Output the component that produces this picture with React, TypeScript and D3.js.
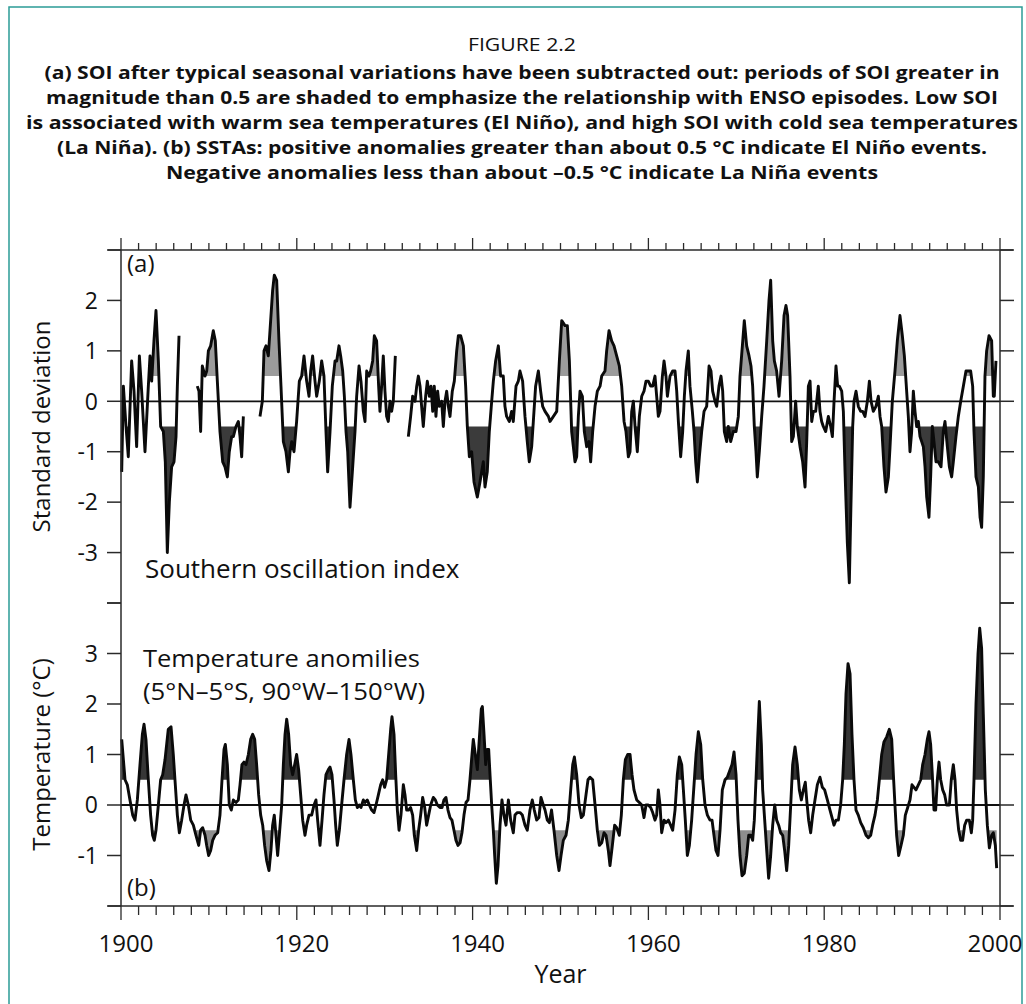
import { useMemo } from "react";
import * as d3 from "d3";

const WIDTH = 1026;
const HEIGHT = 1004;
const FONT = "'Open Sans', 'Noto Sans', sans-serif";
const TEAL = "#2b9c97";

const titleHead = "FIGURE 2.2";
const titleLines = [
  "(a) SOI after typical seasonal variations have been subtracted out: periods of SOI greater in",
  "magnitude than 0.5 are shaded to emphasize the relationship with ENSO episodes. Low SOI",
  "is associated with warm sea temperatures (El Niño), and high SOI with cold sea temperatures",
  "(La Niña). (b) SSTAs: positive anomalies greater than about 0.5 °C indicate El Niño events.",
  "Negative anomalies less than about \u20130.5 °C indicate La Niña events",
];
const titleWidths = [955, 952, 992, 930, 712];

const yearLabels = [1900, 1920, 1940, 1960, 1980, 2000];
const soiTickValues = [-4, -3, -2, -1, 0, 1, 2, 3];
const soiTickLabels = [2, 1, 0, -1, -2, -3];
const sstTickValues = [-2, -1, 0, 1, 2, 3, 4];
const sstTickLabels = [3, 2, 1, 0, -1];

// SOI (standard deviations), null marks a gap in the record
const soiReadings: [number, number | null][] = [
  [1900.08, -1.4], [1900.27, 0.3], [1900.57, -0.5], [1900.83, -1.1], [1901.21, 0.8], [1901.48, 0.2],
  [1901.78, -0.9], [1902.09, 0.9], [1902.35, 0.2], [1902.73, -1.0], [1903.11, 0.3], [1903.3, 0.9],
  [1903.49, 0.4], [1903.75, 1.2], [1903.98, 1.8], [1904.25, 0.8], [1904.51, -0.5], [1904.82, -0.6],
  [1905.04, -1.2], [1905.27, -3.0], [1905.5, -2.0], [1905.76, -1.3], [1906.03, -1.2], [1906.26, -0.7],
  [1906.41, 0.3], [1906.6, 1.3],
  [1907.5, null],
  [1908.68, 0.3], [1908.87, 0.2], [1909.06, -0.6], [1909.25, 0.7], [1909.56, 0.5], [1909.75, 0.6],
  [1909.94, 1.0], [1910.2, 1.1], [1910.5, 1.4], [1910.73, 1.2], [1910.96, 0.4], [1911.26, -0.6],
  [1911.57, -1.2], [1911.83, -1.3], [1912.1, -1.5], [1912.32, -1.0], [1912.59, -0.7], [1912.78, -0.7],
  [1913.08, -0.5], [1913.35, -0.4], [1913.54, -0.7], [1913.73, -1.1], [1913.92, -0.3],
  [1915.0, null],
  [1915.81, -0.3], [1916.08, 0.0], [1916.27, 1.0], [1916.5, 1.1], [1916.76, 0.9], [1916.95, 1.4],
  [1917.25, 2.2], [1917.44, 2.5], [1917.71, 2.4], [1917.97, 1.2], [1918.2, 0.3], [1918.47, -0.8],
  [1918.77, -1.0], [1919.04, -1.4], [1919.23, -1.0], [1919.42, -0.8], [1919.68, -1.0], [1919.98, -0.4],
  [1920.29, 0.4], [1920.55, 0.5], [1920.82, 0.9], [1921.12, 0.4], [1921.39, 0.1], [1921.58, 0.6],
  [1921.8, 0.9], [1922.07, 0.4], [1922.26, 0.1], [1922.56, 0.4], [1922.83, 0.8], [1923.09, 0.5],
  [1923.32, -0.6], [1923.51, -1.4], [1923.78, -0.6], [1924.04, 0.3], [1924.35, 0.8], [1924.54, 0.8],
  [1924.8, 1.1], [1924.99, 0.9], [1925.22, 0.6], [1925.41, 0.1], [1925.6, -0.6], [1925.79, -1.0],
  [1926.05, -2.1], [1926.32, -1.4], [1926.62, -0.6], [1926.81, 0.1], [1927.08, 0.7], [1927.3, 0.4],
  [1927.57, -0.2], [1927.76, -0.4], [1927.95, 0.6], [1928.21, 0.5], [1928.4, 0.6], [1928.63, 0.8],
  [1928.82, 1.3], [1929.08, 1.2], [1929.31, 0.3], [1929.46, -0.2], [1929.65, 0.3], [1929.84, 0.9],
  [1930.03, 0.2], [1930.22, -0.3], [1930.41, -0.4], [1930.6, 0.0], [1930.79, -0.2], [1930.98, 0.0],
  [1931.21, 0.9],
  [1932.0, null],
  [1932.69, -0.7], [1932.95, -0.3], [1933.18, 0.1], [1933.45, 0.0], [1933.64, 0.3], [1933.83, 0.5],
  [1934.02, 0.3], [1934.2, -0.1], [1934.39, -0.5], [1934.66, 0.1], [1934.85, 0.4], [1935.08, 0.1],
  [1935.27, 0.3], [1935.46, -0.2], [1935.64, 0.3], [1935.83, -0.3], [1936.02, 0.2], [1936.21, -0.1],
  [1936.48, 0.0], [1936.67, -0.5], [1936.86, 0.0], [1937.05, 0.2], [1937.24, -0.1], [1937.43, -0.3],
  [1937.69, 0.2], [1937.92, 0.4], [1938.19, 1.0], [1938.38, 1.3], [1938.64, 1.3], [1938.95, 1.1],
  [1939.21, 0.3], [1939.4, -0.5], [1939.63, -1.1], [1939.89, -1.0], [1940.16, -1.6], [1940.54, -1.9],
  [1940.84, -1.6], [1941.22, -1.2], [1941.41, -1.7], [1941.67, -1.4], [1941.9, -0.6], [1942.17, 0.0],
  [1942.36, 0.4], [1942.62, 0.8], [1942.93, 1.1], [1943.19, 0.5], [1943.49, 0.5], [1943.68, -0.1],
  [1943.87, -0.3], [1944.18, -0.4], [1944.44, -0.2], [1944.63, -0.4], [1944.94, 0.3], [1945.2, 0.4],
  [1945.39, 0.6], [1945.69, 0.4], [1945.96, -0.3], [1946.22, -0.8], [1946.45, -1.2], [1946.72, -0.9],
  [1946.91, -0.4], [1947.17, 0.3], [1947.48, 0.6], [1947.74, 0.2], [1947.97, -0.1], [1948.24, -0.2],
  [1948.62, -0.3], [1948.81, -0.4], [1949.57, -0.2], [1949.87, 0.8], [1950.14, 1.6], [1950.51, 1.5],
  [1950.78, 1.5], [1951.01, 0.8], [1951.27, -0.6], [1951.46, -0.9], [1951.65, -1.2], [1951.84, -1.1],
  [1952.03, -0.3], [1952.22, 0.2], [1952.49, 0.1], [1952.71, -0.6], [1952.98, -0.9], [1953.24, -0.8],
  [1953.43, -1.2], [1953.66, -0.6], [1953.93, -0.1], [1954.19, 0.2], [1954.5, 0.3], [1954.69, 0.5],
  [1955.06, 0.6], [1955.25, 1.0], [1955.52, 1.4], [1955.82, 1.2], [1956.09, 1.1], [1956.39, 0.9],
  [1956.69, 0.7], [1956.96, 0.3], [1957.23, -0.4], [1957.45, -0.6], [1957.72, -1.1], [1957.91, -1.0],
  [1958.1, -0.2], [1958.29, 0.0], [1958.48, -0.5], [1958.74, -1.0], [1958.97, -0.3], [1959.24, 0.1],
  [1959.5, 0.2], [1959.73, 0.4], [1959.99, 0.4], [1960.26, 0.3], [1960.49, 0.3], [1960.75, 0.5],
  [1960.94, 0.1], [1961.13, -0.3], [1961.32, -0.2], [1961.59, 0.5], [1961.78, 0.8], [1962.0, 0.5],
  [1962.16, 0.1], [1962.46, 0.5], [1962.76, 0.6], [1963.03, 0.6], [1963.22, 0.2], [1963.41, -0.4],
  [1963.67, -1.1], [1963.9, -0.6], [1964.09, 0.1], [1964.28, 0.6], [1964.54, 1.0], [1964.73, 0.3],
  [1965.0, -0.2], [1965.19, -0.6], [1965.38, -1.2], [1965.57, -1.6], [1965.8, -1.1], [1966.06, -0.6],
  [1966.33, -0.2], [1966.63, -0.1], [1966.9, 0.7], [1967.12, 0.6], [1967.31, 0.2], [1967.58, 0.0],
  [1967.77, -0.1], [1968.03, 0.3], [1968.26, 0.5], [1968.45, 0.2], [1968.64, -0.6], [1968.91, -0.8],
  [1969.09, -0.5], [1969.36, -0.8], [1969.66, -0.6], [1969.97, -0.6], [1970.23, -0.3], [1970.42, 0.5],
  [1970.69, 1.1], [1970.91, 1.6], [1971.18, 1.1], [1971.45, 0.9], [1971.67, 0.7], [1971.86, 0.3],
  [1972.05, -0.5], [1972.24, -1.0], [1972.39, -1.5], [1972.62, -1.0], [1972.89, -0.3], [1973.15, 0.3],
  [1973.46, 1.2], [1973.72, 2.0], [1973.91, 2.4], [1974.14, 1.2], [1974.33, 0.8], [1974.59, 0.6],
  [1974.86, 0.1], [1975.16, 0.8], [1975.43, 1.7], [1975.65, 1.9], [1975.84, 1.7], [1976.11, 0.5],
  [1976.3, -0.8], [1976.49, -0.7], [1976.75, 0.0], [1976.94, -0.5], [1977.25, -0.9], [1977.55, -1.2],
  [1977.82, -1.7], [1978.01, -0.8], [1978.2, 0.3], [1978.39, 0.4], [1978.58, -0.4], [1978.77, -0.2],
  [1979.03, -0.2], [1979.33, 0.3], [1979.52, -0.2], [1979.71, -0.4], [1979.9, -0.5], [1980.17, -0.6],
  [1980.47, -0.3], [1980.74, -0.5], [1980.93, -0.7], [1981.12, 0.0], [1981.34, 0.7], [1981.53, 0.3],
  [1981.72, 0.3], [1981.99, 0.2], [1982.18, -0.2], [1982.37, -1.4], [1982.63, -2.8], [1982.86, -3.6],
  [1983.05, -2.0], [1983.24, -0.5], [1983.39, 0.0], [1983.62, 0.2], [1983.88, -0.1], [1984.15, -0.2],
  [1984.38, -0.2], [1984.64, -0.3], [1984.91, 0.0], [1985.14, 0.4], [1985.33, 0.0], [1985.59, -0.2],
  [1985.89, -0.1], [1986.16, 0.1], [1986.35, -0.3], [1986.54, -0.5], [1986.8, -1.3], [1987.03, -1.8],
  [1987.3, -1.5], [1987.49, -0.9], [1987.75, 0.0], [1988.05, 0.6], [1988.32, 1.2], [1988.62, 1.7],
  [1988.89, 1.3], [1989.12, 0.9], [1989.38, 0.2], [1989.57, -0.3], [1989.76, -1.0], [1989.95, -0.6],
  [1990.14, 0.2], [1990.33, -0.2], [1990.52, -0.5], [1990.71, -0.4], [1990.9, -0.7], [1991.09, -0.8],
  [1991.28, -0.9], [1991.47, -1.3], [1991.66, -1.9], [1991.92, -2.3], [1992.11, -1.5], [1992.3, -0.5],
  [1992.49, -0.8], [1992.72, -1.2], [1992.98, -1.2], [1993.29, -1.3], [1993.55, -0.6], [1993.74, -0.4],
  [1994.01, -0.9], [1994.24, -1.3], [1994.5, -1.5], [1994.69, -1.2], [1994.99, -0.7], [1995.26, -0.3],
  [1995.53, 0.0], [1995.83, 0.3], [1996.13, 0.6], [1996.4, 0.6], [1996.66, 0.6], [1996.89, 0.3],
  [1997.04, -0.6], [1997.27, -1.5], [1997.54, -1.7], [1997.73, -2.3], [1997.91, -2.5], [1998.1, -1.5],
  [1998.29, 0.5], [1998.48, 1.0], [1998.75, 1.3], [1999.05, 1.2], [1999.24, 0.1], [1999.35, 0.1],
  [1999.54, 0.8],
];

// SST anomalies (°C), 5°N–5°S, 90°W–150°W
const sstReadings: [number, number | null][] = [
  [1900.08, 1.3], [1900.27, 0.9], [1900.46, 0.5], [1900.72, 0.4], [1901.02, 0.1], [1901.33, -0.2],
  [1901.59, -0.3], [1901.86, 0.1], [1902.16, 0.8], [1902.43, 1.4], [1902.62, 1.6], [1902.84, 1.3],
  [1903.11, 0.5], [1903.37, -0.2], [1903.6, -0.6], [1903.79, -0.7], [1903.98, -0.5], [1904.25, 0.0],
  [1904.51, 0.5], [1904.74, 0.6], [1905.01, 0.9], [1905.38, 1.5], [1905.69, 1.55], [1905.95, 1.0],
  [1906.14, 0.5], [1906.41, -0.2], [1906.64, -0.55], [1906.9, -0.3], [1907.17, 0.0], [1907.39, 0.2],
  [1907.66, 0.0], [1907.93, -0.3], [1908.23, -0.4], [1908.53, -0.6], [1908.84, -0.8], [1909.06, -0.5],
  [1909.29, -0.45], [1909.56, -0.6], [1909.75, -0.8], [1909.97, -1.0], [1910.2, -0.9], [1910.43, -0.7],
  [1910.69, -0.6], [1911.0, -0.55], [1911.26, -0.2], [1911.49, 0.5], [1911.72, 1.1], [1911.87, 1.2],
  [1912.1, 0.8], [1912.32, 0.0], [1912.55, -0.1], [1912.78, 0.1], [1913.08, 0.05], [1913.35, 0.1],
  [1913.54, 0.4], [1913.76, 0.8], [1913.99, 0.85], [1914.22, 0.8], [1914.49, 1.0], [1914.75, 1.3],
  [1914.98, 1.4], [1915.21, 1.3], [1915.43, 0.8], [1915.66, 0.2], [1915.89, -0.2], [1916.12, -0.4],
  [1916.34, -0.8], [1916.57, -1.1], [1916.84, -1.3], [1917.06, -0.9], [1917.25, -0.4], [1917.44, -0.2],
  [1917.63, -0.6], [1917.82, -1.0], [1918.01, -0.6], [1918.28, 0.0], [1918.47, 0.8], [1918.66, 1.4],
  [1918.85, 1.7], [1919.07, 1.4], [1919.3, 0.8], [1919.53, 0.6], [1919.76, 0.8], [1919.98, 1.0],
  [1920.21, 0.7], [1920.44, 0.2], [1920.67, -0.3], [1920.93, -0.6], [1921.12, -0.4], [1921.39, -0.2],
  [1921.69, -0.2], [1921.96, 0.0], [1922.18, 0.1], [1922.37, -0.3], [1922.64, -0.8], [1922.87, -0.3],
  [1923.09, 0.2], [1923.32, 0.6], [1923.59, 0.7], [1923.78, 0.75], [1924.0, 0.6], [1924.23, 0.1],
  [1924.42, -0.4], [1924.61, -0.8], [1924.84, -0.5], [1925.1, 0.0], [1925.37, 0.5], [1925.67, 1.0],
  [1925.94, 1.3], [1926.16, 1.0], [1926.43, 0.5], [1926.66, 0.1], [1926.89, -0.05], [1927.11, 0.0],
  [1927.3, -0.05], [1927.57, 0.1], [1927.76, 0.05], [1928.02, 0.1], [1928.25, 0.0], [1928.52, -0.1],
  [1928.78, -0.15], [1929.01, 0.0], [1929.28, 0.2], [1929.54, 0.4], [1929.77, 0.5], [1929.99, 0.35],
  [1930.22, 0.5], [1930.45, 1.0], [1930.68, 1.5], [1930.83, 1.75], [1931.06, 1.4], [1931.25, 0.6],
  [1931.44, -0.1], [1931.63, -0.5], [1931.85, -0.2], [1932.12, 0.4], [1932.31, 0.2], [1932.5, -0.1],
  [1932.72, -0.1], [1932.95, -0.05], [1933.18, -0.2], [1933.37, -0.6], [1933.64, -0.9], [1933.86, -0.5],
  [1934.09, -0.2], [1934.32, 0.15], [1934.55, -0.05], [1934.77, -0.4], [1935.0, -0.2], [1935.23, 0.0],
  [1935.53, 0.15], [1935.76, 0.1], [1935.99, 0.0], [1936.29, -0.05], [1936.52, -0.05], [1936.74, 0.1],
  [1936.97, 0.15], [1937.2, -0.1], [1937.43, -0.25], [1937.65, -0.3], [1937.88, -0.5], [1938.11, -0.7],
  [1938.34, -0.8], [1938.57, -0.75], [1938.79, -0.55], [1939.02, -0.2], [1939.25, 0.05], [1939.48, 0.1],
  [1939.7, 0.5], [1939.93, 1.0], [1940.08, 1.3], [1940.31, 1.0], [1940.54, 0.7], [1940.76, 1.3],
  [1940.99, 1.9], [1941.11, 1.95], [1941.3, 1.4], [1941.49, 0.8], [1941.67, 1.1], [1941.83, 1.1],
  [1941.98, 0.6], [1942.17, 0.0], [1942.36, -0.5], [1942.51, -1.0], [1942.7, -1.55], [1942.89, -1.2],
  [1943.12, -0.4], [1943.34, 0.1], [1943.57, -0.2], [1943.8, -0.4], [1944.07, 0.1], [1944.33, -0.3],
  [1944.63, -0.55], [1944.82, -0.2], [1945.09, -0.15], [1945.39, -0.15], [1945.66, -0.2], [1945.96, -0.4],
  [1946.22, -0.5], [1946.53, -0.1], [1946.79, 0.1], [1947.02, -0.1], [1947.29, -0.3], [1947.55, -0.25],
  [1947.78, 0.15], [1948.04, 0.0], [1948.24, -0.1], [1948.5, -0.3], [1948.73, -0.35], [1948.98, -0.1],
  [1949.26, -0.5], [1949.57, -1.0], [1949.83, -1.3], [1950.06, -1.0], [1950.32, -0.7], [1950.63, -0.6],
  [1950.89, -0.3], [1951.16, 0.3], [1951.39, 0.8], [1951.58, 0.95], [1951.84, 0.6], [1952.11, 0.0],
  [1952.37, -0.25], [1952.6, -0.2], [1952.9, 0.2], [1953.13, 0.5], [1953.36, 0.55], [1953.66, 0.5],
  [1953.93, 0.0], [1954.19, -0.5], [1954.42, -0.8], [1954.69, -0.75], [1954.95, -0.55], [1955.18, -0.6],
  [1955.44, -0.9], [1955.63, -1.2], [1955.9, -0.8], [1956.16, -0.4], [1956.39, -0.45], [1956.69, -0.6],
  [1956.92, -0.2], [1957.15, 0.5], [1957.38, 0.9], [1957.64, 1.0], [1957.91, 1.0], [1958.14, 0.6],
  [1958.36, 0.3], [1958.67, 0.1], [1958.97, 0.05], [1959.24, 0.0], [1959.5, -0.25], [1959.73, 0.0],
  [1959.99, 0.0], [1960.26, -0.05], [1960.49, -0.15], [1960.75, -0.3], [1960.94, -0.2], [1961.13, 0.3],
  [1961.32, 0.0], [1961.51, -0.55], [1961.78, -0.3], [1962.0, -0.35], [1962.27, -0.3], [1962.53, -0.4],
  [1962.76, -0.5], [1963.03, -0.1], [1963.29, 0.6], [1963.52, 0.95], [1963.79, 0.8], [1963.98, 0.3],
  [1964.2, -0.3], [1964.43, -1.0], [1964.66, -0.8], [1964.92, -0.3], [1965.19, 0.4], [1965.42, 1.0],
  [1965.68, 1.45], [1965.95, 1.2], [1966.18, 0.5], [1966.44, 0.0], [1966.71, -0.2], [1967.01, -0.3],
  [1967.24, -0.3], [1967.46, -0.6], [1967.69, -0.9], [1967.92, -1.0], [1968.15, -0.5], [1968.41, 0.3],
  [1968.72, 0.5], [1968.98, 0.55], [1969.29, 0.7], [1969.51, 0.8], [1969.74, 1.05], [1969.97, 0.6],
  [1970.19, -0.3], [1970.42, -1.0], [1970.65, -1.4], [1970.91, -1.35], [1971.18, -1.0], [1971.41, -0.6],
  [1971.64, -0.6], [1971.86, -0.7], [1972.05, -0.3], [1972.24, 0.5], [1972.43, 1.3], [1972.62, 2.05],
  [1972.85, 1.2], [1973.0, 0.3], [1973.23, -0.3], [1973.46, -0.9], [1973.68, -1.45], [1973.91, -1.0],
  [1974.14, -0.4], [1974.37, 0.0], [1974.59, -0.3], [1974.82, -0.4], [1975.05, -0.55], [1975.28, -0.6],
  [1975.5, -0.9], [1975.73, -1.3], [1975.96, -0.8], [1976.19, 0.0], [1976.41, 0.8], [1976.68, 1.15],
  [1976.94, 0.8], [1977.17, 0.3], [1977.4, 0.1], [1977.63, 0.3], [1977.85, 0.45], [1978.01, 0.1],
  [1978.23, -0.3], [1978.46, -0.55], [1978.69, -0.2], [1978.95, 0.1], [1979.22, 0.4], [1979.52, 0.55],
  [1979.79, 0.35], [1980.05, 0.3], [1980.36, 0.1], [1980.66, -0.1], [1980.89, -0.25], [1981.11, -0.4],
  [1981.34, -0.3], [1981.61, -0.3], [1981.87, 0.0], [1982.1, 0.5], [1982.29, 1.2], [1982.48, 2.2],
  [1982.71, 2.8], [1982.94, 2.6], [1983.16, 1.4], [1983.39, 0.5], [1983.62, -0.1], [1983.88, -0.2],
  [1984.15, -0.35], [1984.45, -0.45], [1984.76, -0.6], [1985.02, -0.65], [1985.29, -0.6], [1985.51, -0.4],
  [1985.78, -0.2], [1986.05, 0.1], [1986.27, 0.5], [1986.54, 1.0], [1986.8, 1.25], [1987.11, 1.35],
  [1987.41, 1.5], [1987.68, 1.3], [1987.87, 0.6], [1988.05, 0.0], [1988.24, -0.6], [1988.47, -1.0],
  [1988.74, -0.8], [1989.0, -0.6], [1989.23, -0.2], [1989.5, -0.05], [1989.76, 0.1], [1989.99, 0.4],
  [1990.22, 0.35], [1990.44, 0.3], [1990.71, 0.4], [1990.98, 0.5], [1991.2, 0.8], [1991.47, 1.0],
  [1991.73, 1.3], [1991.92, 1.45], [1992.11, 1.2], [1992.3, 0.6], [1992.49, -0.1], [1992.68, -0.1],
  [1992.87, 0.5], [1993.06, 0.85], [1993.25, 0.5], [1993.48, 0.3], [1993.71, 0.2], [1993.93, 0.0],
  [1994.24, 0.0], [1994.46, 0.5], [1994.69, 0.8], [1994.88, 0.5], [1995.07, -0.1], [1995.3, -0.5],
  [1995.53, -0.7], [1995.75, -0.7], [1995.98, -0.4], [1996.21, -0.3], [1996.51, -0.3], [1996.74, -0.55],
  [1996.89, -0.3], [1997.04, 0.5], [1997.27, 2.0], [1997.5, 3.0], [1997.69, 3.5], [1997.91, 3.1],
  [1998.1, 1.8], [1998.33, 0.3], [1998.56, -0.4], [1998.79, -0.85], [1999.05, -0.6], [1999.24, -0.55],
  [1999.47, -0.8], [1999.62, -1.25],
];

type Reading = [number, number | null];

// clip a series at a threshold, adding the crossing points so the fill meets the line
function clipAt(pts: Reading[], thr: number, above: boolean): Reading[] {
  const out: Reading[] = [];
  for (let i = 0; i < pts.length; i++) {
    const [x, v] = pts[i];
    if (v == null) {
      out.push([x, null]);
      continue;
    }
    if (i > 0) {
      const [px, pv] = pts[i - 1];
      if (pv != null && (pv - thr) * (v - thr) < 0) {
        const t = (thr - pv) / (v - pv);
        out.push([px + t * (x - px), thr]);
      }
    }
    out.push([x, above ? Math.max(v, thr) : Math.min(v, thr)]);
  }
  return out;
}

const LEFT = 121;
const RIGHT = 1000;
const TOP = 250;
const MID = 603;
const BOTTOM = 906;

function Panel({
  data,
  y,
  hiFill,
  loFill,
}: {
  data: Reading[];
  y: d3.ScaleLinear<number, number>;
  hiFill: string;
  loFill: string;
}) {
  const x = d3.scaleLinear().domain([1900, 2000]).range([LEFT, RIGHT]);
  const paths = useMemo(() => {
    const line = d3
      .line<Reading>()
      .defined((d) => d[1] != null)
      .x((d) => x(d[0]))
      .y((d) => y(d[1] as number));
    const area = (thr: number) =>
      d3
        .area<Reading>()
        .defined((d) => d[1] != null)
        .x((d) => x(d[0]))
        .y0(y(thr))
        .y1((d) => y(d[1] as number));
    return {
      hi: area(0.5)(clipAt(data, 0.5, true)) || "",
      lo: area(-0.5)(clipAt(data, -0.5, false)) || "",
      line: line(data) || "",
    };
  }, [data, y]);

  return (
    <g>
      <path d={paths.hi} fill={hiFill} />
      <path d={paths.lo} fill={loFill} />
      <line x1={LEFT} x2={RIGHT} y1={y(0)} y2={y(0)} stroke="#111" strokeWidth={1.8} />
      <path d={paths.line} fill="none" stroke="#0a0a0a" strokeWidth={2.9} strokeLinejoin="round" />
    </g>
  );
}

export default function App() {
  const x = d3.scaleLinear().domain([1900, 2000]).range([LEFT, RIGHT]);
  const ySoi = d3.scaleLinear().domain([-4, 3]).range([MID, TOP]);
  const ySst = d3.scaleLinear().domain([-2, 4]).range([BOTTOM, MID]);
  const yearTicks = d3.range(1900, 2001, 2);
  const axisColor = "#2a2a2a";

  return (
    <svg
      width={WIDTH}
      height={HEIGHT}
      style={{ position: "absolute", left: 0, top: 0, display: "block", background: "#fff" }}
      fontFamily={FONT}
    >
      <rect x={9} y={7} width={1013} height={1010} fill="none" stroke={TEAL} strokeWidth={1.5} />

      <text x={522} y={51} textAnchor="middle" fontSize={18} textLength={108} lengthAdjust="spacingAndGlyphs" fill="#111">
        {titleHead}
      </text>
      {titleLines.map((t, i) => (
        <text
          key={i}
          x={522}
          y={79 + i * 25}
          textAnchor="middle"
          fontSize={18}
          fontWeight="bold"
          textLength={titleWidths[i]}
          lengthAdjust="spacingAndGlyphs"
          fill="#111"
        >
          {t}
        </text>
      ))}

      <Panel data={soiReadings} y={ySoi} hiFill="#9b9b9b" loFill="#3b3b3b" />
      <Panel data={sstReadings} y={ySst} hiFill="#363636" loFill="#8e8e8e" />

      {/* frame */}
      <line x1={108} x2={1013} y1={TOP} y2={TOP} stroke={axisColor} strokeWidth={1.5} />
      <line x1={108} x2={1013} y1={BOTTOM} y2={BOTTOM} stroke={axisColor} strokeWidth={1.5} />
      <line x1={LEFT} x2={LEFT} y1={TOP} y2={BOTTOM} stroke={axisColor} strokeWidth={1.5} />
      <line x1={RIGHT} x2={RIGHT} y1={TOP} y2={BOTTOM} stroke={axisColor} strokeWidth={1.5} />

      {/* year ticks, top (up) and bottom (down) */}
      {yearTicks.map((yr) => {
        const major = yr % 20 === 0;
        return (
          <g key={yr} stroke={axisColor} strokeWidth={1.3}>
            <line x1={x(yr)} x2={x(yr)} y1={TOP} y2={TOP - (major ? 12 : 7)} />
            <line x1={x(yr)} x2={x(yr)} y1={BOTTOM} y2={BOTTOM + (major ? 14 : 9)} />
          </g>
        );
      })}
      {yearLabels.map((yr) => (
        <text
          key={yr}
          x={x(yr) + (yr === 2000 ? -5 : 5)}
          y={952}
          textAnchor="middle"
          fontSize={24}
          fill="#111"
        >
          {yr}
        </text>
      ))}
      <text x={(LEFT + RIGHT) / 2} y={983} textAnchor="middle" fontSize={25} fill="#111">
        Year
      </text>

      {/* value ticks on both sides */}
      {[
        ...soiTickValues.map((v) => ySoi(v)),
        ...sstTickValues.map((v) => ySst(v)),
      ].map((py, i) => (
        <g key={i} stroke={axisColor} strokeWidth={1.5}>
          <line x1={LEFT - 14} x2={LEFT} y1={py} y2={py} />
          <line x1={RIGHT} x2={RIGHT + 14} y1={py} y2={py} />
        </g>
      ))}
      {soiTickLabels.map((v) => (
        <text key={`a${v}`} x={98} y={ySoi(v)} dy="0.36em" textAnchor="end" fontSize={23} fill="#111">
          {v}
        </text>
      ))}
      {sstTickLabels.map((v) => (
        <text key={`b${v}`} x={98} y={ySst(v)} dy="0.36em" textAnchor="end" fontSize={23} fill="#111">
          {v}
        </text>
      ))}

      <text transform={`translate(50, ${(TOP + MID) / 2}) rotate(-90)`} textAnchor="middle" fontSize={24} fill="#111">
        Standard deviation
      </text>
      <text transform={`translate(50, ${(MID + BOTTOM) / 2}) rotate(-90)`} textAnchor="middle" fontSize={24} fill="#111">
        Temperature (°C)
      </text>

      <text x={127} y={272} fontSize={24} fill="#111">(a)</text>
      <text x={127} y={896} fontSize={24} fill="#111">(b)</text>
      <text x={145} y={578} fontSize={26} fill="#111">Southern oscillation index</text>
      <text x={143} y={667} fontSize={24} textLength={277} lengthAdjust="spacingAndGlyphs" fill="#111">
        Temperature anomilies
      </text>
      <text x={143} y={700} fontSize={24} textLength={282} lengthAdjust="spacingAndGlyphs" fill="#111">
        (5°N–5°S, 90°W–150°W)
      </text>
    </svg>
  );
}
